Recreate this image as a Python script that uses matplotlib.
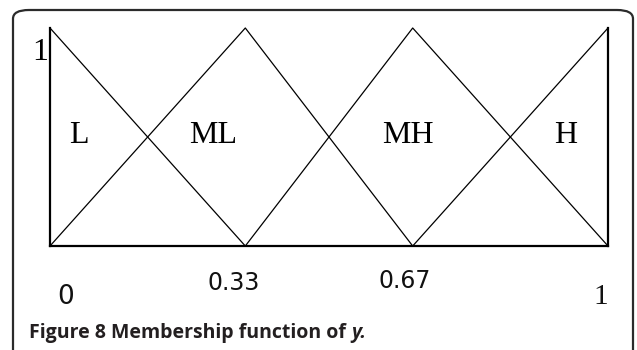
import matplotlib
matplotlib.use("Agg")
import matplotlib.pyplot as plt
from matplotlib.patches import FancyBboxPatch

# Data
set_names = ["L", "ML", "MH", "H"]
set_x = [[0.0, 0.35], [0.0, 0.35, 0.65], [0.35, 0.65, 1.0], [0.65, 1.0]]
set_y = [[1, 0], [0, 1, 0], [0, 1, 0], [0, 1]]
label_x = [0.052, 0.293, 0.642, 0.925]
tick_vals = [0.0, 0.35, 0.65, 1.0]
tick_labels = ["0", "0.33", "0.67", "1"]

W, H = 637, 350
fig = plt.figure(figsize=(W / 100, H / 100), dpi=100)
fig.patch.set_facecolor("white")

def fx(px):
    return px / W

def fy(py):
    return 1 - py / H

# outer rounded frame
frame = FancyBboxPatch((fx(13), fy(380)), fx(620), (380 - 10) / H,
                       boxstyle="round,pad=0,rounding_size=0.025",
                       transform=fig.transFigure, fill=False,
                       edgecolor="#2b2b2b", linewidth=1.6, clip_on=False)
fig.patches.append(frame)

ax = fig.add_axes([fx(50), fy(246), fx(558), 218 / H])
for xs, ys in zip(set_x, set_y):
    ax.plot(xs, ys, color="black", linewidth=0.9, clip_on=False)
ax.set_xlim(0, 1)
ax.set_ylim(0, 1)
ax.set_xticks([])
ax.set_yticks([])
ax.spines["top"].set_visible(False)
for s in ["left", "right", "bottom"]:
    ax.spines[s].set_linewidth(1.6)
    ax.spines[s].set_color("black")

serif = "Liberation Serif"
for name, lx in zip(set_names, label_x):
    ax.text(lx, 0.505, name, fontsize=23, family=serif, ha="center", va="center")

# y label "1"
fig.text(fx(40), fy(52), "1", fontsize=23, family=serif, ha="center", va="center")

# bottom labels
tick_px = [(66, 297, "DejaVu Sans", 19), (234, 283, "DejaVu Sans", 17),
           (405, 281, "DejaVu Sans", 17), (601, 297, serif, 21)]
for (px, py, fam, fs), lab in zip(tick_px, tick_labels):
    fig.text(fx(px), fy(py), lab, fontsize=fs, family=fam, ha="center",
             va="center", color="#111111")

cap = fig.text(fx(29), fy(333), "Figure 8 Membership function of ", fontsize=14,
               family="Open Sans", fontweight="bold", ha="left", va="center",
               color="#231f20")
fig.canvas.draw()
bb = cap.get_window_extent()
fig.text(bb.x1 / W, fy(333), "y.", fontsize=14, family="Open Sans",
         fontweight="bold", style="italic", ha="left", va="center",
         color="#231f20")

fig.savefig("out.png", dpi=100, facecolor="white")
